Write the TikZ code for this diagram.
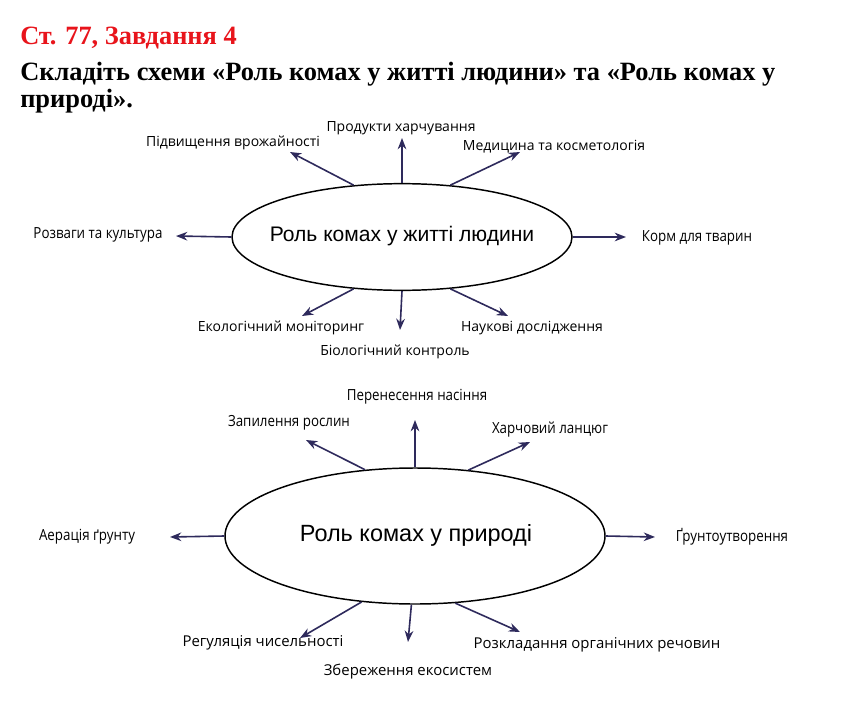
\documentclass[tikz,border=0pt]{standalone}
\usepackage{fontspec}
\setmainfont{Liberation Serif}
\newfontfamily\lblfont{Open Sans}
\newfontfamily\narrowfont[FakeStretch=0.87]{Open Sans}
\newfontfamily\rolefont{Liberation Sans}
\usetikzlibrary{arrows.meta,shapes.geometric}
\definecolor{arrowblue}{HTML}{2E2A5C}
\definecolor{titlered}{HTML}{E8141B}

\begin{document}
\begin{tikzpicture}[x=0.75pt,y=-0.75pt,
  lbl/.style={font=\lblfont\fontsize{10.5}{12}\selectfont, inner sep=0pt},
  blbl/.style={font=\lblfont\fontsize{11.2}{13}\selectfont, inner sep=0pt},
  nlbl/.style={font=\narrowfont\fontsize{11.5}{13}\selectfont, inner sep=0pt},
  role/.style={draw, ellipse, line width=1.1pt, inner sep=0pt},
  head/.style={anchor=base west, inner sep=0pt, font=\bfseries\fontsize{19.8}{22}\selectfont},
  ray/.style={draw=arrowblue, line width=1.2pt, -{Stealth[length=8.5pt,width=6.5pt]}}
]
\useasboundingbox (0,0) rectangle (852,713);

% heading
\node[head, text=titlered] (task) at (20,45) {Ст. 77, Завдання 4};
\node[head] (ask1) at (20,81) {Складіть схеми «Роль комах у житті людини» та «Роль комах у};
\node[head] (ask2) at (20,108) {природі».};

% first scheme
\node[role, minimum width=255pt, minimum height=80pt] (people) at (402,237) {};
\node[font=\rolefont\fontsize{15.8}{18}\selectfont] (peopletxt) at (402,236) {Роль комах у житті людини};

\foreach \nm/\a/\x/\y in {harvest/133/290/152, food/90/402/138, medic/47/520/152,
                         fun/180/176/236, feed/0/626/237,
                         monit/227/302/316, bioctl/270/400/330, science/313/508/316}{
  \coordinate (\nm) at (\x,\y);
  \draw[ray] (people.\a) -- (\nm);
}

\node[lbl]  (tharvest) at (233,143) {Підвищення врожайності};
\node[lbl]  (tfood)    at (401,128) {Продукти харчування};
\node[lbl]  (tmedic)   at (554,147) {Медицина та косметологія};
\node[nlbl] (tfun)     at (98,235)  {Розваги та культура};
\node[nlbl] (tfeed)    at (697,238) {Корм для тварин};
\node[lbl]  (tmonit)   at (281,328) {Екологічний моніторинг};
\node[lbl]  (tbioctl)  at (395,352) {Біологічний контроль};
\node[lbl]  (tscience) at (532,328) {Наукові дослідження};

% second scheme
\node[role, minimum width=285pt, minimum height=102pt] (nature) at (415,536) {};
\node[font=\rolefont\fontsize{17.6}{20}\selectfont] (naturetxt) at (416,535) {Роль комах у природі};

\foreach \nm/\a/\x/\y in {pollin/127/306/440, seeds/90/415/420, chain/51/530/442,
                         aerat/180/170/537, soil/0/655/537,
                         regul/231/300/638, keep/267/408/642, decomp/301/520/632}{
  \coordinate (\nm) at (\x,\y);
  \draw[ray] (nature.\a) -- (\nm);
}

\node[nlbl] (tseeds)  at (417,397) {Перенесення насіння};
\node[nlbl] (tpollin) at (289,423) {Запилення рослин};
\node[nlbl] (tchain)  at (550,430) {Харчовий ланцюг};
\node[nlbl] (taerat)  at (87,537)  {Аерація ґрунту};
\node[nlbl] (tsoil)   at (732,537) {Ґрунтоутворення};
\node[blbl] (tregul)  at (263,643) {Регуляція чисельності};
\node[blbl] (tkeep)   at (408,672) {Збереження екосистем};
\node[blbl] (tdecomp) at (597,645) {Розкладання органічних речовин};

\end{tikzpicture}
\end{document}
